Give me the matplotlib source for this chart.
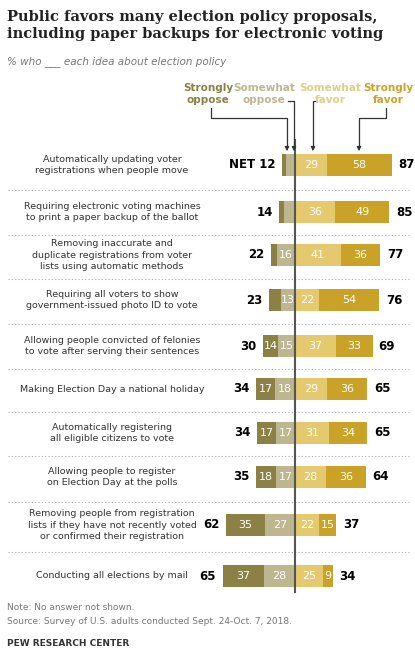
import matplotlib
matplotlib.use("Agg")
import matplotlib.pyplot as plt

labels = ["Automatically updating voter\nregistrations when people move",
          "Requiring electronic voting machines\nto print a paper backup of the ballot",
          "Removing inaccurate and\nduplicate registrations from voter\nlists using automatic methods",
          "Requiring all voters to show\ngovernment-issued photo ID to vote",
          "Allowing people convicted of felonies\nto vote after serving their sentences",
          "Making Election Day a national holiday",
          "Automatically registering\nall eligible citizens to vote",
          "Allowing people to register\non Election Day at the polls",
          "Removing people from registration\nlists if they have not recently voted\nor confirmed their registration",
          "Conducting all elections by mail"]
strong_opp = [4, 4, 6, 10, 14, 17, 17, 18, 35, 37]
some_opp = [8, 10, 16, 13, 15, 18, 17, 17, 27, 28]
some_fav = [29, 36, 41, 22, 37, 29, 31, 28, 22, 25]
strong_fav = [58, 49, 36, 54, 33, 36, 34, 36, 15, 9]
net_opp = [12, 14, 22, 23, 30, 34, 34, 35, 62, 65]
net_fav = [87, 85, 77, 76, 69, 65, 65, 64, 37, 34]
rows_y = [165, 212, 255, 300, 346, 389, 433, 477, 525, 576]

C_SO, C_O, C_F, C_SF = "#8b8145", "#bdb68f", "#e4c96f", "#c9a227"
PX = 1.11
CX = 295
def d(p):
    return (p - CX) / PX

fig = plt.figure(figsize=(4.15, 6.62), dpi=100)
ax = fig.add_axes([0, 0, 1, 1])
ax.set_xlim(d(0), d(415))
ax.set_ylim(662, 0)
ax.axis("off")
bold = dict(fontweight="bold", fontsize=8.5, va="center")
for i, y in enumerate(rows_y):
    h = 22
    ax.barh(y, -some_opp[i], height=h, color=C_O, left=0)
    ax.barh(y, -strong_opp[i], height=h, color=C_SO, left=-some_opp[i])
    ax.barh(y, some_fav[i], height=h, color=C_F, left=0)
    ax.barh(y, strong_fav[i], height=h, color=C_SF, left=some_fav[i])
    if some_opp[i] >= 13:
        ax.text(-some_opp[i] / 2, y, str(some_opp[i]), color="white", ha="center", va="center", fontsize=8)
    if strong_opp[i] >= 13:
        ax.text(-some_opp[i] - strong_opp[i] / 2, y, str(strong_opp[i]), color="white", ha="center", va="center", fontsize=8)
    ax.text(some_fav[i] / 2, y, str(some_fav[i]), color="white", ha="center", va="center", fontsize=8)
    ax.text(some_fav[i] + strong_fav[i] / 2, y, str(strong_fav[i]), color="white", ha="center", va="center", fontsize=8)
    left = -(some_opp[i] + strong_opp[i])
    ax.text(left - 6, y, ("NET " if i == 0 else "") + str(net_opp[i]), ha="right", **bold)
    ax.text(net_fav[i] + 6, y, str(net_fav[i]), ha="left", **bold)
    ax.text(d(112), y, labels[i], ha="center", va="center", fontsize=6.8, color="#333333", linespacing=1.35)
    if i < len(rows_y) - 1:
        sep = (rows_y[i] + rows_y[i + 1]) / 2 + 1
        ax.plot([d(8), d(410)], [sep, sep], color="#aaaaaa", lw=0.8, ls=(0, (1, 2)))
ax.plot([0, 0], [140, 592], color="#555555", lw=1.5)

# legend headings
ax.text(d(208), 94, "Strongly\noppose", ha="center", va="center", fontsize=7.5, fontweight="bold", color=C_SO, linespacing=1.2)
ax.text(d(264), 94, "Somewhat\noppose", ha="center", va="center", fontsize=7.5, fontweight="bold", color=C_O, linespacing=1.2)
ax.text(d(330), 94, "Somewhat\nfavor", ha="center", va="center", fontsize=7.5, fontweight="bold", color="#e2cd85", linespacing=1.2)
ax.text(d(388), 94, "Strongly\nfavor", ha="center", va="center", fontsize=7.5, fontweight="bold", color=C_SF, linespacing=1.2)
k = dict(color="#333333", lw=0.9)
ax.plot([d(211), d(211), d(287), d(287)], [108, 118, 118, 146], **k)
ax.plot([d(288), d(294), d(294)], [101, 101, 146], **k)
ax.plot([d(317), d(313), d(313)], [101, 101, 146], **k)
ax.plot([d(386), d(386), d(359), d(359)], [108, 118, 118, 146], **k)
for xa in [287, 294, 313, 359]:
    ax.annotate("", xy=(d(xa), 154), xytext=(d(xa), 145),
                arrowprops=dict(arrowstyle="-|>", color="#333333", lw=0.9, mutation_scale=6))

fig.text(7 / 415, 1 - 10 / 662, "Public favors many election policy proposals,\nincluding paper backups for electronic voting",
         ha="left", va="top", fontsize=10.5, fontweight="bold", family="DejaVu Serif", color="#222222", linespacing=1.3)
fig.text(7 / 415, 1 - 62 / 662, "% who ___ each idea about election policy", ha="left", va="center",
         fontsize=7.5, style="italic", color="#777777")
fig.text(7 / 415, 1 - 608 / 662, "Note: No answer not shown.", fontsize=6.5, color="#777777", va="center")
fig.text(7 / 415, 1 - 622 / 662, "Source: Survey of U.S. adults conducted Sept. 24-Oct. 7, 2018.", fontsize=6.5, color="#777777", va="center")
fig.text(7 / 415, 1 - 643 / 662, "PEW RESEARCH CENTER", fontsize=6.5, fontweight="bold", color="#333333", va="center")
fig.savefig("out.png", dpi=100)
